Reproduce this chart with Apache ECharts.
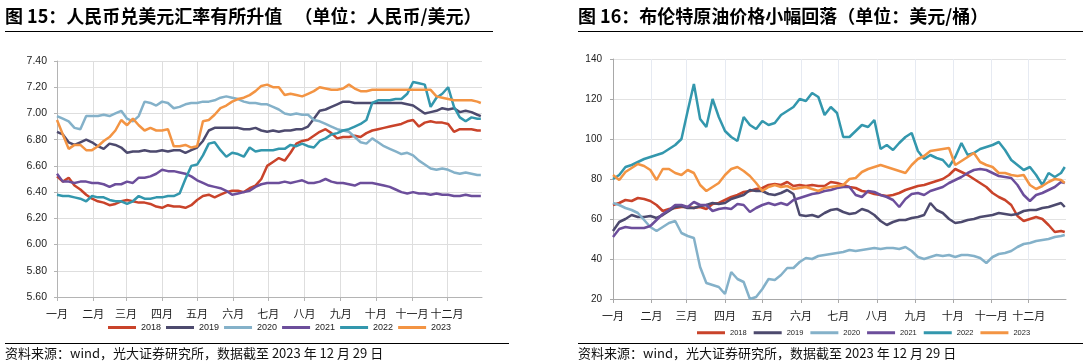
<!DOCTYPE html>
<html><head><meta charset="utf-8">
<script src="https://cdn.jsdelivr.net/npm/echarts@6.0.0/dist/echarts.min.js"></script>
<style>html,body{margin:0;padding:0;background:#fff}#c{width:1088px;height:364px}</style>
</head><body><div id="c"></div>
<script>
const months = ['一月','二月','三月','四月','五月','六月','七月','八月','九月','十月','十一月','十二月'];
const monthStartDay = [0,31,59,90,120,151,181,212,243,273,304,334];
const years = ['2018','2019','2020','2021','2022','2023'];
const colors = ['#c9432a','#4d4a6e','#84b1c9','#6c4e9b','#3397ad','#f39443'];
const sampleDays = Array.from({length:73},(_,i)=>i*5).concat([363]);

const cny2018 = [6.52,6.48,6.51,6.45,6.42,6.38,6.35,6.33,6.32,6.30,
6.31,6.33,6.34,6.33,6.32,6.32,6.31,6.29,6.28,6.30,
6.29,6.29,6.28,6.30,6.34,6.37,6.38,6.36,6.38,6.40,
6.41,6.41,6.40,6.43,6.45,6.50,6.60,6.63,6.66,6.64,
6.70,6.77,6.79,6.80,6.83,6.86,6.88,6.85,6.81,6.82,
6.82,6.83,6.82,6.85,6.87,6.88,6.89,6.90,6.91,6.92,
6.94,6.95,6.90,6.93,6.94,6.93,6.93,6.92,6.86,6.88,
6.88,6.88,6.87,6.87];
const cny2019 = [6.86,6.84,6.78,6.76,6.78,6.80,6.78,6.75,6.73,6.77,
6.76,6.74,6.70,6.71,6.71,6.72,6.71,6.71,6.72,6.71,
6.72,6.72,6.70,6.72,6.74,6.79,6.87,6.89,6.89,6.89,
6.89,6.89,6.88,6.88,6.89,6.87,6.86,6.87,6.86,6.87,
6.87,6.88,6.88,6.90,6.96,7.02,7.03,7.05,7.07,7.09,
7.09,7.08,7.08,7.08,7.08,7.08,7.08,7.08,7.08,7.08,
7.07,7.06,7.03,7.00,7.01,7.02,7.04,7.03,7.04,7.01,
7.02,7.01,6.99,6.98];
const cny2020 = [6.98,6.96,6.94,6.89,6.88,6.98,6.98,6.98,6.99,6.98,
7.00,7.02,6.96,6.94,6.98,7.09,7.08,7.06,7.09,7.08,
7.04,7.05,7.07,7.08,7.08,7.09,7.09,7.10,7.12,7.13,
7.12,7.11,7.09,7.08,7.08,7.07,7.07,7.05,7.03,7.00,
6.99,7.00,6.99,6.99,6.95,6.94,6.92,6.90,6.88,6.87,
6.86,6.82,6.78,6.77,6.81,6.78,6.75,6.73,6.71,6.69,
6.70,6.68,6.64,6.61,6.58,6.57,6.58,6.57,6.55,6.54,
6.55,6.54,6.53,6.53];
const cny2021 = [6.54,6.48,6.48,6.47,6.48,6.48,6.47,6.47,6.46,6.44,
6.46,6.46,6.48,6.47,6.51,6.51,6.52,6.54,6.57,6.56,
6.56,6.55,6.54,6.52,6.49,6.47,6.45,6.44,6.43,6.41,
6.38,6.39,6.40,6.41,6.44,6.46,6.47,6.47,6.47,6.48,
6.47,6.48,6.49,6.47,6.47,6.48,6.50,6.48,6.47,6.47,
6.46,6.45,6.47,6.47,6.47,6.46,6.45,6.44,6.42,6.40,
6.39,6.40,6.39,6.39,6.38,6.39,6.38,6.38,6.37,6.37,
6.38,6.37,6.37,6.37];
const cny2022 = [6.38,6.37,6.37,6.36,6.35,6.33,6.37,6.36,6.36,6.34,
6.33,6.33,6.31,6.33,6.37,6.35,6.35,6.36,6.36,6.37,
6.37,6.39,6.50,6.60,6.61,6.68,6.77,6.78,6.72,6.67,
6.70,6.69,6.67,6.74,6.71,6.72,6.72,6.72,6.73,6.73,
6.76,6.75,6.77,6.75,6.74,6.79,6.81,6.84,6.85,6.87,
6.88,6.90,6.92,6.95,7.08,7.10,7.10,7.10,7.11,7.11,
7.15,7.24,7.23,7.22,7.05,7.12,7.15,7.20,7.05,6.97,
6.94,6.97,6.96,6.96];
const cny2023 = [6.95,6.84,6.73,6.76,6.76,6.72,6.72,6.75,6.79,6.82,
6.87,6.95,6.91,6.96,6.91,6.87,6.89,6.87,6.87,6.88,
6.75,6.75,6.76,6.74,6.75,6.94,6.95,6.99,7.04,7.06,
7.09,7.11,7.12,7.14,7.17,7.21,7.22,7.20,7.20,7.14,
7.15,7.14,7.13,7.15,7.17,7.20,7.19,7.18,7.18,7.19,
7.22,7.19,7.17,7.17,7.18,7.18,7.18,7.18,7.18,7.18,
7.18,7.18,7.18,7.18,7.18,7.13,7.12,7.11,7.10,7.10,
7.10,7.10,7.09,7.08];

const brent2018 = [67,68,69.5,69,70.5,70,69,67,64,65,
65.5,66,66,65.5,66,65,67.5,68,69.5,71,
72,73.5,74,75,75.5,77,77.5,77,78.5,76.5,
77,76.5,77,76.5,76.5,78.5,78,77,76,75.5,
74,73.5,72.5,72,71.5,72,73,74.5,75.5,76.5,
77,78,79,80,82,85,83.5,82,80,78,
76,73,71,69.5,67,61.5,59,60,61,60,
57,53.5,54,53.5];
const brent2019 = [54,58.5,60,62,61,61,61.5,60.5,62,64,
66,66.5,65.5,65.5,66.5,67,68,67.5,68,70,
71,72,74.5,74,74,72.5,72,73,74.5,72.5,
62,61.5,62,61,63,64.5,65,63.5,62.5,63,
65,64,62,59,57,58.5,59.5,59.5,60.5,61,
62,68,64.5,63,60,58,58.5,59.5,60,61,
61.5,62,63,62.5,62,62.5,64,64.5,64.5,65.5,
66,67,68,66];
const brent2020 = [68,67,65.5,64.5,63,59.5,56,54,56,58,
59,53,51.5,50.5,36,28,27,26,22.5,33.5,
30,28.5,20,21,25,30,29.5,32,35.5,35.5,
38.5,40.5,40,41.5,42,42.5,43,43.5,44.5,44,
44.5,45,45.5,45,45.5,45.5,45,46,44,41,
40,41,42,41.5,42,41,42,42,41.5,40.5,
38,41,42.5,43,44,46,47.5,48,49,49.5,
50,51,51.5,52];
const brent2021 = [51,55,56,55.5,55.5,55.5,56.5,59.5,62.5,64.5,
67,67,66,68.5,67,67,64,65,65.5,65,
67.5,67,63.5,65.5,67,68,67,68,67,69.5,
70.5,71.5,72.5,73,74,74.5,75.5,76,76,72,
71,74,73.5,72,71,69.5,66,70,72.5,73,
72,74,75,76,78,79.5,81,83,84.5,85,
84.5,83,81.5,81,80.5,77,72,69,72,73,
74.5,76,78.5,78];
const brent2022 = [80,82,86,87,88.5,90,91,92,93,95,
97,100,114,127.5,110,106,120,111,104,101,
99,111,107,105,109,107,108,112,114,116,
120,119,123,121,112,116,113,101,101,104,
107,106,109.5,95,97,94.5,98,101,103,94,
90,92,90.5,89.5,86,91,98,92,93,95,
96,97,98.5,94.5,89.5,87,84.5,86,82,77,
83,81,83,86];
const brent2023 = [82,79.5,83.5,85.5,87.5,86.5,84.5,79.5,85,85,
83,82,84.5,83,77,74,76,78,82,85,
86,84,81.5,78,74,76,77,76,76.5,75,
75.5,76,75,74,75.5,76,76.5,77,80,80.5,
83.5,85,86,87,86,85,84,83,87,90,
91.5,94,94.5,95,95.5,87,89,91,93,88.5,
87,86,83,83,82,81.5,82,77,75,76.5,
78.5,80,79.5,78];

const cnySeries = [cny2018,cny2019,cny2020,cny2021,cny2022,cny2023];
const brentSeries = [brent2018,brent2019,brent2020,brent2021,brent2022,brent2023];

const title1 = '图 15：人民币兑美元汇率有所升值   （单位：人民币/美元）';
const title2 = '图 16：布伦特原油价格小幅回落（单位：美元/桶）';
const sourceText = '资料来源：wind，光大证券研究所，数据截至 2023 年 12 月 29 日';

const CJK = "'Noto Sans CJK SC', sans-serif";
const LAT = "'Liberation Sans', 'Noto Sans CJK SC', sans-serif";
const dayCats = Array.from({length:365},(_,i)=>'d'+i);
const labelOf = {};
monthStartDay.forEach((d,i)=>{ labelOf['d'+d] = months[i]; });
const isMonthStart = (idx) => monthStartDay.indexOf(idx) >= 0;

function xAxisFor(gi, splitColor, axisColor, margin, fs) {
  return {
    type:'category', gridIndex:gi, data:dayCats, boundaryGap:false,
    axisLine:{lineStyle:{color:axisColor, width:1}},
    axisTick:{show:true, interval:isMonthStart, length:4, lineStyle:{color:axisColor}},
    axisLabel:{interval:isMonthStart, formatter:(v)=>labelOf[v]||'', margin:margin, color:'#222', fontSize:fs, fontFamily:CJK},
    splitLine:{show:true, interval:isMonthStart, lineStyle:{color:splitColor, width:1}}
  };
}

const series = [];
years.forEach((y,i)=>{
  series.push({type:'line', name:y, xAxisIndex:0, yAxisIndex:0, symbol:'none', animation:false,
    data: sampleDays.map((d,k)=>[d, cnySeries[i][k]]),
    lineStyle:{width:2.5, color:colors[i]}, itemStyle:{color:colors[i]}});
});
years.forEach((y,i)=>{
  series.push({type:'line', name:y, xAxisIndex:1, yAxisIndex:1, symbol:'none', animation:false,
    data: sampleDays.map((d,k)=>[d, brentSeries[i][k]]),
    lineStyle:{width:2.5, color:colors[i]}, itemStyle:{color:colors[i]}});
});

const option = {
  backgroundColor:'#fff',
  animation:false,
  grid:[
    {left:57, top:61, width:425, height:236},
    {left:613, top:59, width:453, height:240}
  ],
  xAxis:[
    xAxisFor(0,'#dedede','#b4b4b4',11,11),
    xAxisFor(1,'#e6eaf2','#a8a8a8',11,11)
  ],
  yAxis:[
    {type:'value', gridIndex:0, min:5.6, max:7.4, interval:0.2,
     axisLine:{show:true, lineStyle:{color:'#b4b4b4'}},
     axisTick:{show:true, length:3, lineStyle:{color:'#b4b4b4'}},
     axisLabel:{formatter:(v)=>v.toFixed(2), color:'#222', fontSize:10.5, fontFamily:LAT, margin:10},
     splitLine:{lineStyle:{color:'#dedede'}}},
    {type:'value', gridIndex:1, min:20, max:140, interval:20,
     axisLine:{show:true, lineStyle:{color:'#a8a8a8'}},
     axisTick:{show:true, length:3, lineStyle:{color:'#a8a8a8'}},
     axisLabel:{color:'#222', fontSize:10, fontFamily:LAT, margin:11},
     splitLine:{lineStyle:{color:'#e2e2e2'}}}
  ],
  legend:[
    {data:years, left:108, top:323, itemWidth:28, itemHeight:3, itemGap:5, icon:'rect', padding:0,
     textStyle:{fontSize:9, color:'#222', fontFamily:LAT}},
    {data:years, left:697, top:329, itemWidth:28, itemHeight:3, itemGap:7, icon:'rect', padding:0,
     textStyle:{fontSize:7.5, color:'#222', fontFamily:LAT}}
  ],
  graphic:[
    {type:'text', x:5, y:16, style:{text:title1, fontSize:18, fontWeight:'bold', fontFamily:CJK, fill:'#000', verticalAlign:'middle'}},
    {type:'text', x:578, y:16, style:{text:title2, fontSize:18, fontWeight:'bold', fontFamily:CJK, fill:'#000', verticalAlign:'middle'}},
    {type:'line', shape:{x1:5,y1:31.5,x2:493,y2:31.5}, style:{stroke:'#000', lineWidth:1}},
    {type:'line', shape:{x1:578,y1:31.5,x2:1083,y2:31.5}, style:{stroke:'#000', lineWidth:1}},
    {type:'line', shape:{x1:5,y1:343.5,x2:509,y2:343.5}, style:{stroke:'#000', lineWidth:1}},
    {type:'line', shape:{x1:578,y1:343.5,x2:1083,y2:343.5}, style:{stroke:'#000', lineWidth:1}},
    {type:'text', x:5, y:353, style:{text:sourceText, fontSize:13, fontFamily:CJK, fill:'#111', verticalAlign:'middle'}},
    {type:'text', x:578, y:353, style:{text:sourceText, fontSize:13, fontFamily:CJK, fill:'#111', verticalAlign:'middle'}}
  ],
  series: series
};
const chart = echarts.init(document.getElementById('c'), null, {renderer:'canvas'});
chart.setOption(option);
</script>
</body></html>
